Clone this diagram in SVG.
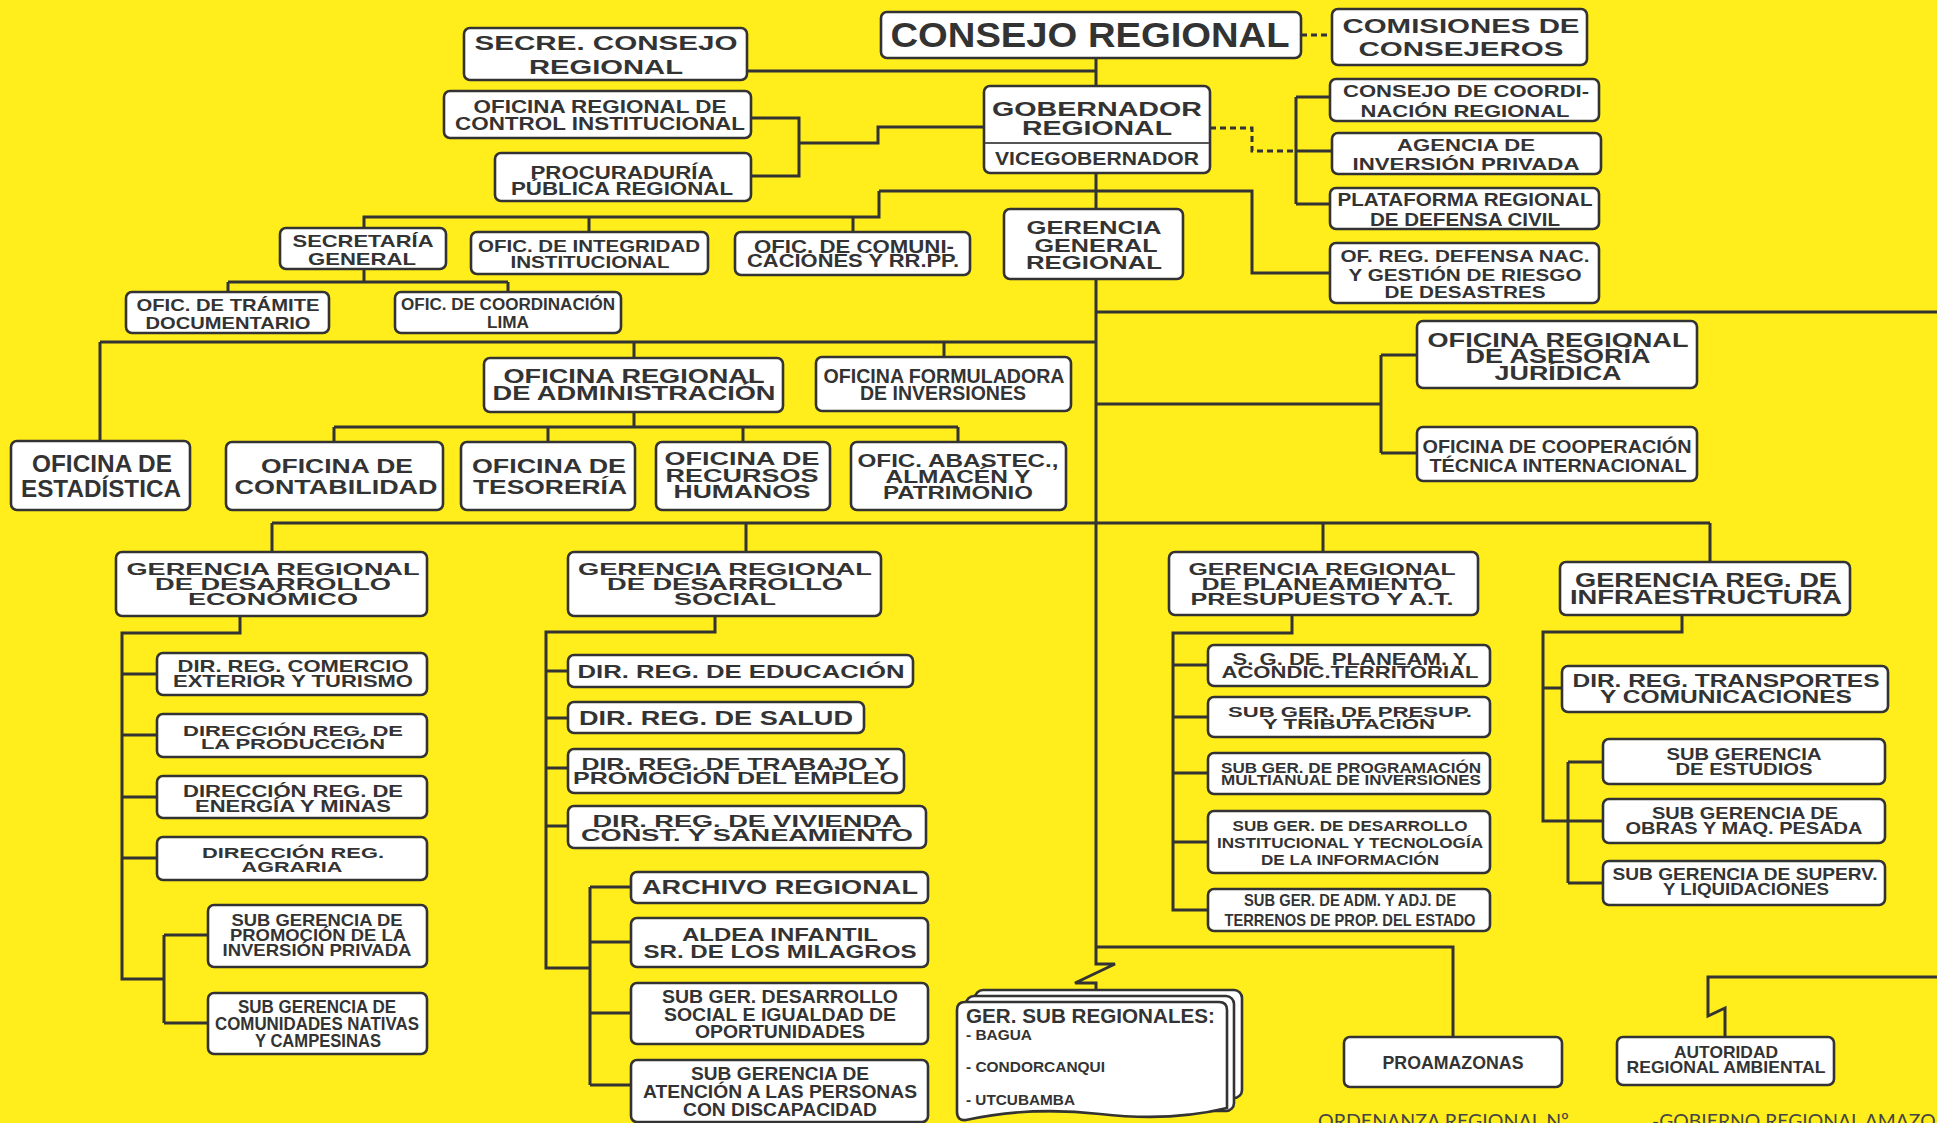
<svg xmlns="http://www.w3.org/2000/svg" width="1937" height="1123" viewBox="0 0 1937 1123">
<style>
.box{fill:#fff;stroke:#333;stroke-width:2.6}
.ln{fill:none;stroke:#333;stroke-width:3}
.dash{fill:none;stroke:#333;stroke-width:3;stroke-dasharray:6 4}
text{font-family:"Liberation Sans",Arial,sans-serif;font-weight:700;fill:#333;text-anchor:middle}
.foot{font-family:Lato,"Liberation Sans",sans-serif;font-weight:400;fill:#444;text-anchor:start}
.lst{text-anchor:start}
</style>
<rect width="1937" height="1123" fill="#FFEE1C"/>
<g id="connectors">
<path class="ln" d="M1096,58V86M747,71H1096"/>
<path class="dash" d="M1301,35H1332"/>
<path class="ln" d="M984,127H878V143H799M751,118H799V176H751"/>
<path class="dash" d="M1210,128H1252V151H1296"/>
<path class="ln" d="M1296,97V204M1296,97H1330M1296,151H1332M1296,204H1330"/>
<path class="ln" d="M1096,173V209M879,191H1252V273H1330M879,191V217H364V228M589,217V232M853,217V232"/>
<path class="ln" d="M364,269V282M228,282H508M228,282V292M508,282V292"/>
<path class="ln" d="M1096,279V964L1115,964L1075,983L1096,983L1096,992"/>
<path class="ln" d="M1096,312H1937"/>
<path class="ln" d="M100,342H1096M100,342V441M634,342V358M944,342V357"/>
<path class="ln" d="M1096,404H1381M1381,355V453M1381,355H1417M1381,453H1417"/>
<path class="ln" d="M634,412V427M334,427H958M334,427V442M548,427V442M743,427V442M958,427V442"/>
<path class="ln" d="M272,523H1710M272,523V552M746,523V552M1323,523V552M1710,523V562"/>
<path class="ln" d="M240,616V633H122V979H164M122,674H157M122,735H157M122,797H157M122,858H157M164,935V1023M164,935H208M164,1023H208"/>
<path class="ln" d="M715,616V632H546V968H590M546,671H568M546,718H568M546,768H568M546,826H568M590,887V1085M590,887H631M590,942H631M590,1013H631M590,1085H631"/>
<path class="ln" d="M1292,615V633H1173V910H1208M1173,665H1208M1173,717H1208M1173,773H1208M1173,842H1208"/>
<path class="ln" d="M1682,615V632H1543V821H1603M1543,688H1562M1568,762V883M1568,762H1603M1568,883H1603"/>
<path class="ln" d="M1096,947H1453V1037"/>
<path class="ln" d="M1937,977H1708V1016L1725,1008V1037"/>
</g>

<g id="consejo-regional"><rect class="box" x="881" y="12" width="420" height="46" rx="6"/>
<text x="1090" y="47" font-size="35" textLength="399" lengthAdjust="spacingAndGlyphs">CONSEJO REGIONAL</text></g>

<g id="comisiones"><rect class="box" x="1332" y="9" width="255" height="56" rx="6"/>
<text x="1461" y="33" font-size="20" textLength="237" lengthAdjust="spacingAndGlyphs">COMISIONES DE</text>
<text x="1461" y="56" font-size="20" textLength="205" lengthAdjust="spacingAndGlyphs">CONSEJEROS</text></g>

<g id="secre-consejo"><rect class="box" x="464" y="28" width="283" height="52" rx="6"/>
<text x="606" y="50" font-size="21" textLength="263" lengthAdjust="spacingAndGlyphs">SECRE. CONSEJO</text>
<text x="606" y="74" font-size="21" textLength="154" lengthAdjust="spacingAndGlyphs">REGIONAL</text></g>

<g id="control-institucional"><rect class="box" x="444" y="91" width="307" height="47" rx="6"/>
<text x="600" y="113" font-size="18" textLength="253" lengthAdjust="spacingAndGlyphs">OFICINA REGIONAL DE</text>
<text x="600" y="130" font-size="18" textLength="290" lengthAdjust="spacingAndGlyphs">CONTROL INSTITUCIONAL</text></g>

<g id="procuraduria"><rect class="box" x="495" y="153" width="256" height="48" rx="6"/>
<text x="622" y="179" font-size="19" textLength="183" lengthAdjust="spacingAndGlyphs">PROCURADURÍA</text>
<text x="622" y="195" font-size="19" textLength="222" lengthAdjust="spacingAndGlyphs">PÚBLICA REGIONAL</text></g>

<g id="gobernador"><rect class="box" x="984" y="86" width="226" height="87" rx="6"/>
<path d="M985,143H1209" stroke="#555" stroke-width="2"/>
<text x="1097" y="116" font-size="21" textLength="210" lengthAdjust="spacingAndGlyphs">GOBERNADOR</text>
<text x="1097" y="135" font-size="21" textLength="150" lengthAdjust="spacingAndGlyphs">REGIONAL</text>
<text x="1097" y="165" font-size="18" textLength="204" lengthAdjust="spacingAndGlyphs">VICEGOBERNADOR</text></g>

<g id="consejo-coordinacion"><rect class="box" x="1330" y="79" width="269" height="42" rx="6"/>
<text x="1466" y="97" font-size="16.5" textLength="246" lengthAdjust="spacingAndGlyphs">CONSEJO DE COORDI-</text>
<text x="1465" y="117" font-size="16.5" textLength="209" lengthAdjust="spacingAndGlyphs">NACIÓN REGIONAL</text></g>

<g id="agencia"><rect class="box" x="1332" y="133" width="269" height="41" rx="6"/>
<text x="1466" y="151" font-size="17" textLength="138" lengthAdjust="spacingAndGlyphs">AGENCIA DE</text>
<text x="1466" y="170" font-size="17" textLength="227" lengthAdjust="spacingAndGlyphs">INVERSIÓN PRIVADA</text></g>

<g id="plataforma"><rect class="box" x="1330" y="188" width="269" height="41" rx="6"/>
<text x="1465" y="206" font-size="17.5" textLength="255" lengthAdjust="spacingAndGlyphs">PLATAFORMA REGIONAL</text>
<text x="1465" y="226" font-size="17.5" textLength="190" lengthAdjust="spacingAndGlyphs">DE DEFENSA CIVIL</text></g>

<g id="defensa-nacional"><rect class="box" x="1330" y="243" width="269" height="60" rx="6"/>
<text x="1465" y="262" font-size="16.5" textLength="249" lengthAdjust="spacingAndGlyphs">OF. REG. DEFENSA NAC.</text>
<text x="1465" y="281" font-size="16.5" textLength="233" lengthAdjust="spacingAndGlyphs">Y GESTIÓN DE RIESGO</text>
<text x="1465" y="298" font-size="16.5" textLength="161" lengthAdjust="spacingAndGlyphs">DE DESASTRES</text></g>

<g id="secretaria-general"><rect class="box" x="280" y="228" width="166" height="41" rx="6"/>
<text x="363" y="247" font-size="17" textLength="141" lengthAdjust="spacingAndGlyphs">SECRETARÍA</text>
<text x="362" y="265" font-size="17" textLength="108" lengthAdjust="spacingAndGlyphs">GENERAL</text></g>

<g id="integridad"><rect class="box" x="471" y="232" width="237" height="42" rx="6"/>
<text x="589" y="252" font-size="17" textLength="222" lengthAdjust="spacingAndGlyphs">OFIC. DE INTEGRIDAD</text>
<text x="590" y="268" font-size="17" textLength="159" lengthAdjust="spacingAndGlyphs">INSTITUCIONAL</text></g>

<g id="comunicaciones"><rect class="box" x="735" y="232" width="235" height="43" rx="6"/>
<text x="854" y="253" font-size="17.5" textLength="200" lengthAdjust="spacingAndGlyphs">OFIC. DE COMUNI-</text>
<text x="853" y="267" font-size="17.5" textLength="212" lengthAdjust="spacingAndGlyphs">CACIONES Y RR.PP.</text></g>

<g id="gerencia-general"><rect class="box" x="1004" y="209" width="179" height="70" rx="6"/>
<text x="1094" y="234" font-size="18.5" textLength="135" lengthAdjust="spacingAndGlyphs">GERENCIA</text>
<text x="1096" y="252" font-size="18.5" textLength="123" lengthAdjust="spacingAndGlyphs">GENERAL</text>
<text x="1094" y="269" font-size="18.5" textLength="136" lengthAdjust="spacingAndGlyphs">REGIONAL</text></g>

<g id="tramite"><rect class="box" x="126" y="292" width="203" height="41" rx="6"/>
<text x="228" y="311" font-size="17" textLength="183" lengthAdjust="spacingAndGlyphs">OFIC. DE TRÁMITE</text>
<text x="228" y="329" font-size="17" textLength="165" lengthAdjust="spacingAndGlyphs">DOCUMENTARIO</text></g>

<g id="coordinacion-lima"><rect class="box" x="395" y="292" width="226" height="41" rx="6"/>
<text x="508" y="310" font-size="16" textLength="214" lengthAdjust="spacingAndGlyphs">OFIC. DE COORDINACIÓN</text>
<text x="508" y="328" font-size="16" textLength="42" lengthAdjust="spacingAndGlyphs">LIMA</text></g>

<g id="asesoria-juridica"><rect class="box" x="1417" y="321" width="280" height="67" rx="6"/>
<text x="1558" y="347" font-size="19.5" textLength="261" lengthAdjust="spacingAndGlyphs">OFICINA REGIONAL</text>
<text x="1558" y="363" font-size="19.5" textLength="185" lengthAdjust="spacingAndGlyphs">DE ASESORÍA</text>
<text x="1558" y="380" font-size="19.5" textLength="127" lengthAdjust="spacingAndGlyphs">JURÍDICA</text></g>

<g id="cooperacion"><rect class="box" x="1417" y="427" width="280" height="54" rx="6"/>
<text x="1557" y="453" font-size="18.5" textLength="269" lengthAdjust="spacingAndGlyphs">OFICINA DE COOPERACIÓN</text>
<text x="1558" y="472" font-size="18.5" textLength="257" lengthAdjust="spacingAndGlyphs">TÉCNICA INTERNACIONAL</text></g>

<g id="administracion"><rect class="box" x="484" y="358" width="299" height="54" rx="6"/>
<text x="634" y="383" font-size="21" textLength="261" lengthAdjust="spacingAndGlyphs">OFICINA REGIONAL</text>
<text x="634" y="400" font-size="21" textLength="283" lengthAdjust="spacingAndGlyphs">DE ADMINISTRACIÓN</text></g>

<g id="formuladora"><rect class="box" x="816" y="357" width="255" height="54" rx="6"/>
<text x="944" y="383" font-size="20" textLength="241" lengthAdjust="spacingAndGlyphs">OFICINA FORMULADORA</text>
<text x="943" y="400" font-size="20" textLength="166" lengthAdjust="spacingAndGlyphs">DE INVERSIONES</text></g>

<g id="estadistica"><rect class="box" x="11" y="441" width="179" height="69" rx="6"/>
<text x="102" y="472" font-size="24.5" textLength="140" lengthAdjust="spacingAndGlyphs">OFICINA DE</text>
<text x="101" y="497" font-size="24.5" textLength="160" lengthAdjust="spacingAndGlyphs">ESTADÍSTICA</text></g>

<g id="contabilidad"><rect class="box" x="226" y="442" width="217" height="68" rx="6"/>
<text x="337" y="473" font-size="21" textLength="152" lengthAdjust="spacingAndGlyphs">OFICINA DE</text>
<text x="336" y="494" font-size="21" textLength="203" lengthAdjust="spacingAndGlyphs">CONTABILIDAD</text></g>

<g id="tesoreria"><rect class="box" x="461" y="442" width="174" height="68" rx="6"/>
<text x="549" y="473" font-size="21" textLength="154" lengthAdjust="spacingAndGlyphs">OFICINA DE</text>
<text x="550" y="494" font-size="21" textLength="154" lengthAdjust="spacingAndGlyphs">TESORERÍA</text></g>

<g id="recursos-humanos"><rect class="box" x="656" y="442" width="174" height="68" rx="6"/>
<text x="742" y="465" font-size="18.5" textLength="155" lengthAdjust="spacingAndGlyphs">OFICINA DE</text>
<text x="742" y="482" font-size="18.5" textLength="153" lengthAdjust="spacingAndGlyphs">RECURSOS</text>
<text x="742" y="498" font-size="18.5" textLength="137" lengthAdjust="spacingAndGlyphs">HUMANOS</text></g>

<g id="abastecimiento"><rect class="box" x="851" y="442" width="215" height="68" rx="6"/>
<text x="958" y="467" font-size="18.5" textLength="201" lengthAdjust="spacingAndGlyphs">OFIC. ABASTEC.,</text>
<text x="958" y="483" font-size="18.5" textLength="145" lengthAdjust="spacingAndGlyphs">ALMACÉN Y</text>
<text x="958" y="499" font-size="18.5" textLength="150" lengthAdjust="spacingAndGlyphs">PATRIMONIO</text></g>

<g id="ger-economico"><rect class="box" x="116" y="552" width="311" height="64" rx="6"/>
<text x="273" y="575" font-size="16.5" textLength="293" lengthAdjust="spacingAndGlyphs">GERENCIA REGIONAL</text>
<text x="273" y="590" font-size="16.5" textLength="236" lengthAdjust="spacingAndGlyphs">DE DESARROLLO</text>
<text x="273" y="605" font-size="16.5" textLength="170" lengthAdjust="spacingAndGlyphs">ECONÓMICO</text></g>

<g id="ger-social"><rect class="box" x="568" y="552" width="313" height="64" rx="6"/>
<text x="725" y="575" font-size="16.5" textLength="294" lengthAdjust="spacingAndGlyphs">GERENCIA REGIONAL</text>
<text x="725" y="590" font-size="16.5" textLength="236" lengthAdjust="spacingAndGlyphs">DE DESARROLLO</text>
<text x="725" y="605" font-size="16.5" textLength="102" lengthAdjust="spacingAndGlyphs">SOCIAL</text></g>

<g id="ger-planeamiento"><rect class="box" x="1169" y="552" width="309" height="63" rx="6"/>
<text x="1322" y="575" font-size="16.5" textLength="267" lengthAdjust="spacingAndGlyphs">GERENCIA REGIONAL</text>
<text x="1322" y="590" font-size="16.5" textLength="241" lengthAdjust="spacingAndGlyphs">DE PLANEAMIENTO</text>
<text x="1322" y="605" font-size="16.5" textLength="263" lengthAdjust="spacingAndGlyphs">PRESUPUESTO Y A.T.</text></g>

<g id="ger-infraestructura"><rect class="box" x="1560" y="562" width="290" height="53" rx="6"/>
<text x="1706" y="587" font-size="19.5" textLength="262" lengthAdjust="spacingAndGlyphs">GERENCIA REG. DE</text>
<text x="1706" y="604" font-size="19.5" textLength="272" lengthAdjust="spacingAndGlyphs">INFRAESTRUCTURA</text></g>

<g id="comercio"><rect class="box" x="157" y="653" width="270" height="42" rx="6"/>
<text x="293" y="672" font-size="16.3" textLength="231" lengthAdjust="spacingAndGlyphs">DIR. REG. COMERCIO</text>
<text x="293" y="687" font-size="16.3" textLength="240" lengthAdjust="spacingAndGlyphs">EXTERIOR Y TURISMO</text></g>

<g id="produccion"><rect class="box" x="157" y="714" width="270" height="43" rx="6"/>
<text x="293" y="736" font-size="15.5" textLength="220" lengthAdjust="spacingAndGlyphs">DIRECCIÓN REG. DE</text>
<text x="293" y="749" font-size="15.5" textLength="184" lengthAdjust="spacingAndGlyphs">LA PRODUCCIÓN</text></g>

<g id="energia"><rect class="box" x="157" y="776" width="270" height="42" rx="6"/>
<text x="293" y="797" font-size="16" textLength="220" lengthAdjust="spacingAndGlyphs">DIRECCIÓN REG. DE</text>
<text x="293" y="812" font-size="16" textLength="196" lengthAdjust="spacingAndGlyphs">ENERGÍA Y MINAS</text></g>

<g id="agraria"><rect class="box" x="157" y="837" width="270" height="43" rx="6"/>
<text x="293" y="858" font-size="15" textLength="182" lengthAdjust="spacingAndGlyphs">DIRECCIÓN REG.</text>
<text x="292" y="872" font-size="15" textLength="101" lengthAdjust="spacingAndGlyphs">AGRARIA</text></g>

<g id="promocion-inversion"><rect class="box" x="208" y="905" width="219" height="62" rx="6"/>
<text x="317" y="926" font-size="17" textLength="171" lengthAdjust="spacingAndGlyphs">SUB GERENCIA DE</text>
<text x="318" y="941" font-size="17" textLength="176" lengthAdjust="spacingAndGlyphs">PROMOCIÓN DE LA</text>
<text x="317" y="956" font-size="17" textLength="189" lengthAdjust="spacingAndGlyphs">INVERSIÓN PRIVADA</text></g>

<g id="comunidades-nativas"><rect class="box" x="208" y="993" width="219" height="61" rx="6"/>
<text x="317" y="1013" font-size="18" textLength="158" lengthAdjust="spacingAndGlyphs">SUB GERENCIA DE</text>
<text x="317" y="1030" font-size="18" textLength="204" lengthAdjust="spacingAndGlyphs">COMUNIDADES NATIVAS</text>
<text x="318" y="1047" font-size="18" textLength="126" lengthAdjust="spacingAndGlyphs">Y CAMPESINAS</text></g>

<g id="educacion"><rect class="box" x="568" y="655" width="345" height="32" rx="6"/>
<text x="741" y="678" font-size="18.6" textLength="327" lengthAdjust="spacingAndGlyphs">DIR. REG. DE EDUCACIÓN</text></g>

<g id="salud"><rect class="box" x="568" y="702" width="296" height="31" rx="6"/>
<text x="716" y="725" font-size="20" textLength="274" lengthAdjust="spacingAndGlyphs">DIR. REG. DE SALUD</text></g>

<g id="trabajo"><rect class="box" x="568" y="749" width="336" height="44" rx="6"/>
<text x="736" y="770" font-size="16.3" textLength="309" lengthAdjust="spacingAndGlyphs">DIR. REG. DE TRABAJO Y</text>
<text x="736" y="784" font-size="16.3" textLength="326" lengthAdjust="spacingAndGlyphs">PROMOCIÓN DEL EMPLEO</text></g>

<g id="vivienda"><rect class="box" x="568" y="806" width="358" height="42" rx="6"/>
<text x="747" y="827" font-size="16.5" textLength="309" lengthAdjust="spacingAndGlyphs">DIR. REG. DE VIVIENDA</text>
<text x="747" y="841" font-size="16.5" textLength="332" lengthAdjust="spacingAndGlyphs">CONST. Y SANEAMIENTO</text></g>

<g id="archivo"><rect class="box" x="631" y="872" width="297" height="31" rx="6"/>
<text x="780" y="894" font-size="19.5" textLength="276" lengthAdjust="spacingAndGlyphs">ARCHIVO REGIONAL</text></g>

<g id="aldea"><rect class="box" x="631" y="918" width="297" height="49" rx="6"/>
<text x="780" y="941" font-size="18.6" textLength="196" lengthAdjust="spacingAndGlyphs">ALDEA INFANTIL</text>
<text x="780" y="958" font-size="18.6" textLength="273" lengthAdjust="spacingAndGlyphs">SR. DE LOS MILAGROS</text></g>

<g id="igualdad"><rect class="box" x="631" y="983" width="297" height="61" rx="6"/>
<text x="780" y="1003" font-size="19" textLength="236" lengthAdjust="spacingAndGlyphs">SUB GER. DESARROLLO</text>
<text x="780" y="1021" font-size="19" textLength="232" lengthAdjust="spacingAndGlyphs">SOCIAL E IGUALDAD DE</text>
<text x="780" y="1038" font-size="19" textLength="170" lengthAdjust="spacingAndGlyphs">OPORTUNIDADES</text></g>

<g id="discapacidad"><rect class="box" x="631" y="1060" width="297" height="62" rx="6"/>
<text x="780" y="1080" font-size="17.7" textLength="178" lengthAdjust="spacingAndGlyphs">SUB GERENCIA DE</text>
<text x="780" y="1098" font-size="17.7" textLength="274" lengthAdjust="spacingAndGlyphs">ATENCIÓN A LAS PERSONAS</text>
<text x="780" y="1116" font-size="17.7" textLength="194" lengthAdjust="spacingAndGlyphs">CON DISCAPACIDAD</text></g>

<g id="planeam-territorial"><rect class="box" x="1208" y="645" width="282" height="41" rx="6"/>
<text x="1350" y="665" font-size="16.3" textLength="235" lengthAdjust="spacingAndGlyphs">S. G. DE&#160; PLANEAM. Y</text>
<text x="1350" y="678" font-size="16.3" textLength="257" lengthAdjust="spacingAndGlyphs">ACONDIC.TERRITORIAL</text></g>

<g id="presupuesto"><rect class="box" x="1208" y="697" width="282" height="40" rx="6"/>
<text x="1350" y="717" font-size="15" textLength="244" lengthAdjust="spacingAndGlyphs">SUB GER. DE PRESUP.</text>
<text x="1349" y="729" font-size="15" textLength="172" lengthAdjust="spacingAndGlyphs">Y TRIBUTACIÓN</text></g>

<g id="programacion"><rect class="box" x="1208" y="753" width="282" height="41" rx="6"/>
<text x="1351" y="773" font-size="15.4" textLength="260" lengthAdjust="spacingAndGlyphs">SUB GER. DE PROGRAMACIÓN</text>
<text x="1351" y="785" font-size="15.4" textLength="260" lengthAdjust="spacingAndGlyphs">MULTIANUAL DE INVERSIONES</text></g>

<g id="desarrollo-institucional"><rect class="box" x="1208" y="811" width="282" height="62" rx="6"/>
<text x="1350" y="831" font-size="15.5" textLength="235" lengthAdjust="spacingAndGlyphs">SUB GER. DE DESARROLLO</text>
<text x="1350" y="848" font-size="15.5" textLength="266" lengthAdjust="spacingAndGlyphs">INSTITUCIONAL Y TECNOLOGÍA</text>
<text x="1350" y="865" font-size="15.5" textLength="178" lengthAdjust="spacingAndGlyphs">DE LA INFORMACIÓN</text></g>

<g id="terrenos"><rect class="box" x="1208" y="889" width="282" height="42" rx="6"/>
<text x="1350" y="906" font-size="17" textLength="212" lengthAdjust="spacingAndGlyphs">SUB GER. DE ADM. Y ADJ. DE</text>
<text x="1350" y="926" font-size="17" textLength="251" lengthAdjust="spacingAndGlyphs">TERRENOS DE PROP. DEL ESTADO</text></g>

<g id="transportes"><rect class="box" x="1562" y="666" width="326" height="46" rx="6"/>
<text x="1726" y="687" font-size="17.5" textLength="307" lengthAdjust="spacingAndGlyphs">DIR. REG. TRANSPORTES</text>
<text x="1726" y="703" font-size="17.5" textLength="252" lengthAdjust="spacingAndGlyphs">Y COMUNICACIONES</text></g>

<g id="estudios"><rect class="box" x="1603" y="739" width="282" height="45" rx="6"/>
<text x="1744" y="760" font-size="17" textLength="155" lengthAdjust="spacingAndGlyphs">SUB GERENCIA</text>
<text x="1744" y="775" font-size="17" textLength="137" lengthAdjust="spacingAndGlyphs">DE ESTUDIOS</text></g>

<g id="obras"><rect class="box" x="1603" y="799" width="282" height="44" rx="6"/>
<text x="1745" y="819" font-size="17" textLength="186" lengthAdjust="spacingAndGlyphs">SUB GERENCIA DE</text>
<text x="1744" y="834" font-size="17" textLength="237" lengthAdjust="spacingAndGlyphs">OBRAS Y MAQ. PESADA</text></g>

<g id="supervision"><rect class="box" x="1603" y="861" width="282" height="44" rx="6"/>
<text x="1745" y="880" font-size="17" textLength="265" lengthAdjust="spacingAndGlyphs">SUB GERENCIA DE SUPERV.</text>
<text x="1746" y="895" font-size="17" textLength="166" lengthAdjust="spacingAndGlyphs">Y LIQUIDACIONES</text></g>

<g id="proamazonas"><rect class="box" x="1344" y="1037" width="218" height="50" rx="6"/>
<text x="1453" y="1069" font-size="19" textLength="141" lengthAdjust="spacingAndGlyphs">PROAMAZONAS</text></g>

<g id="autoridad-ambiental"><rect class="box" x="1617" y="1037" width="217" height="48" rx="6"/>
<text x="1726" y="1058" font-size="17" textLength="104" lengthAdjust="spacingAndGlyphs">AUTORIDAD</text>
<text x="1726" y="1073" font-size="17" textLength="199" lengthAdjust="spacingAndGlyphs">REGIONAL AMBIENTAL</text></g>

<g id="ger-sub-regionales">
<rect class="box" x="975" y="990" width="267" height="108" rx="8"/>
<rect class="box" x="966" y="996" width="268" height="115" rx="8"/>
<path class="box" d="M957,1010Q957,1002 965,1002H1219Q1227,1002 1227,1010V1108Q1170,1122 1100,1114Q1030,1106 966,1120Q957,1121 957,1112Z"/>
<text class="lst" x="966" y="1023" font-size="21" textLength="249" lengthAdjust="spacingAndGlyphs">GER. SUB REGIONALES:</text>
<text class="lst" x="966" y="1040" font-size="14" textLength="66" lengthAdjust="spacingAndGlyphs">- BAGUA</text>
<text class="lst" x="966" y="1072" font-size="14" textLength="139" lengthAdjust="spacingAndGlyphs">- CONDORCANQUI</text>
<text class="lst" x="966" y="1105" font-size="14" textLength="109" lengthAdjust="spacingAndGlyphs">- UTCUBAMBA</text>
</g>

<text class="foot" x="1318" y="1128" font-size="20" textLength="251" lengthAdjust="spacingAndGlyphs">ORDENANZA REGIONAL Nº</text>
<text class="foot" x="1652" y="1128" font-size="20" textLength="322" lengthAdjust="spacingAndGlyphs">-GOBIERNO REGIONAL AMAZONAS</text>
</svg>
